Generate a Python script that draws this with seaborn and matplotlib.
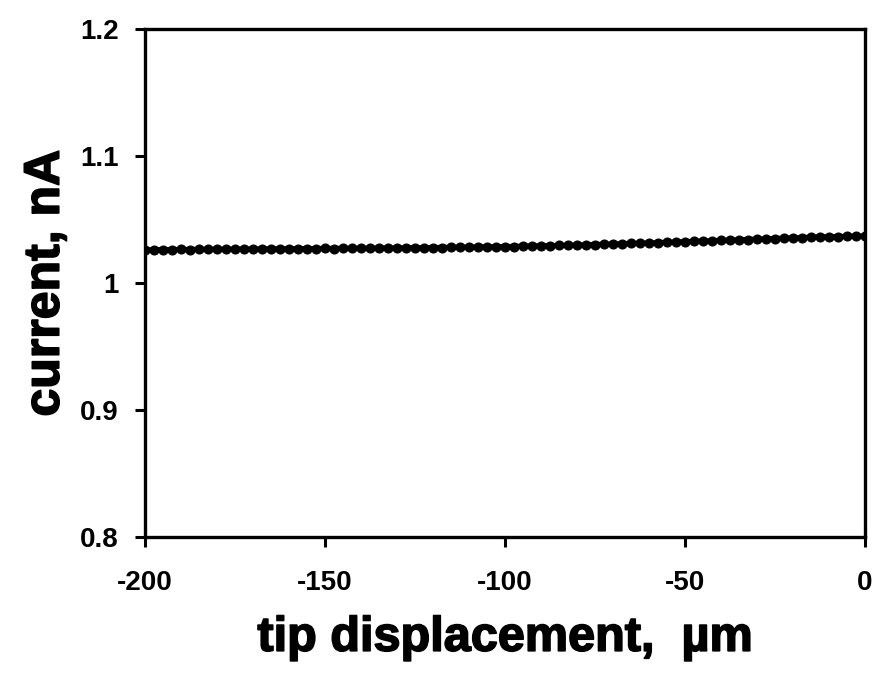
import numpy as np
import pandas as pd
import matplotlib
matplotlib.use("Agg")
import matplotlib.pyplot as plt
import matplotlib.patheffects as pe
import seaborn as sns

# tip displacement (um), every 2.5 um from -200 to 0
displacement = np.arange(-200, 0.1, 2.5)

current = [
    1.0262, 1.0260, 1.0263, 1.0262, 1.0264, 1.0263, 1.0265, 1.0264, 1.0266, 1.0265,
    1.0267, 1.0266, 1.0268, 1.0267, 1.0269, 1.0268, 1.0270, 1.0269, 1.0271, 1.0270,
    1.0272, 1.0271, 1.0273, 1.0272, 1.0274, 1.0273, 1.0275, 1.0274, 1.0276, 1.0276,
    1.0278, 1.0277, 1.0279, 1.0279, 1.0281, 1.0281, 1.0283, 1.0283, 1.0285, 1.0285,
    1.0287, 1.0287, 1.0290, 1.0290, 1.0293, 1.0293, 1.0296, 1.0296, 1.0299, 1.0300,
    1.0303, 1.0304, 1.0307, 1.0308, 1.0311, 1.0312, 1.0315, 1.0317, 1.0320, 1.0322,
    1.0325, 1.0327, 1.0330, 1.0332, 1.0335, 1.0337, 1.0340, 1.0342, 1.0345, 1.0347,
    1.0350, 1.0352, 1.0355, 1.0357, 1.0360, 1.0362, 1.0364, 1.0365, 1.0367, 1.0368,
    1.0369,
]

df = pd.DataFrame({"x": displacement, "y": current})

sns.set_style("ticks")
plt.rcParams["font.family"] = ["Liberation Sans", "DejaVu Sans"]
plt.rcParams["font.weight"] = "bold"

fig = plt.figure(figsize=(8.77, 6.77), dpi=100)
ax = fig.add_axes([0.1653, 0.2068, 0.821, 0.7504])

sns.lineplot(data=df, x="x", y="y", ax=ax, color="black", linewidth=3.8,
             marker="o", markersize=6.5, markeredgecolor="black")

ax.set_xlim(-200, 0)
ax.set_ylim(0.8, 1.2)
ax.set_xticks([-200, -150, -100, -50, 0])
ax.set_xticklabels(["-200", "-150", "-100", "-50", "0"])
ax.set_yticks([0.8, 0.9, 1.0, 1.1, 1.2])
ax.set_yticklabels(["0.8", "0.9", "1", "1.1", "1.2"])

for s in ax.spines.values():
    s.set_linewidth(2.4)
    s.set_color("black")
ax.tick_params(direction="out", length=7, width=2.2, labelsize=20, colors="black")
ax.tick_params(axis="y", pad=12)
ax.tick_params(axis="x", pad=17)
for lab in ax.get_xticklabels() + ax.get_yticklabels():
    lab.set_fontweight("bold")

thick = [pe.withStroke(linewidth=1.2, foreground="black")]
ax.set_xlabel("tip displacement,  \u00b5m", fontsize=35, fontweight="heavy",
              color="black", labelpad=14, path_effects=thick)
ax.set_ylabel("current, nA", fontsize=36, fontweight="heavy",
              color="black", labelpad=8, path_effects=thick)

fig.savefig("out.png", dpi=100)
